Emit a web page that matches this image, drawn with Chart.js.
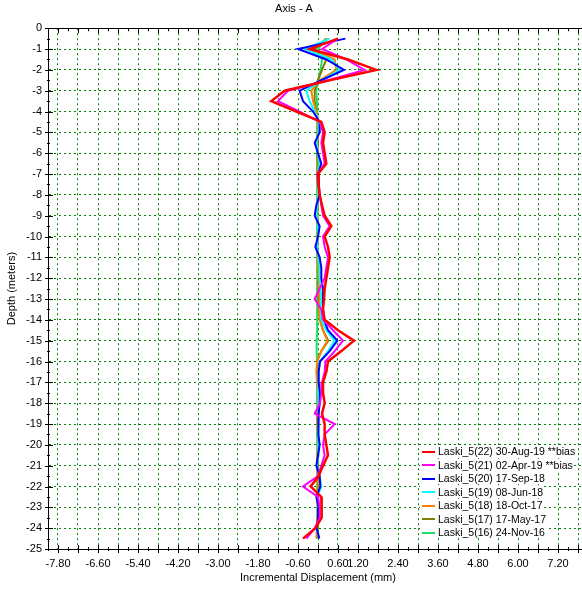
<!DOCTYPE html>
<html>
<head>
<meta charset="utf-8">
<script src="https://cdn.jsdelivr.net/npm/chart.js@4.4.1/dist/chart.umd.min.js"></script>
<style>
  html, body { margin: 0; padding: 0; background: #fff; overflow: hidden; }
  #wrap { position: relative; width: 636px; height: 589px; }
  #legend { position: absolute; left: 420px; top: 445px; font: 10.5px "Liberation Sans", Arial, sans-serif; color: #000; }
  #legend .row { height: 13.5px; line-height: 13.5px; white-space: nowrap; }
  #legend .row span { background: #fff; padding-right: 1px; }
  #legend .swatch { display: inline-block; width: 13px; height: 2px; vertical-align: middle; margin: 0 3px 1px 2px; }
</style>
</head>
<body>
<div id="wrap">
  <canvas id="chart" width="636" height="589"></canvas>
  <div id="legend"></div>
</div>
<script>
// depth of each reading (m), shown as negative values
const depths = [-0.5, -1, -1.5, -2, -2.5, -3, -3.5, -4, -4.5, -5,
  -5.5, -6, -6.5, -7, -7.5, -8, -8.5, -9, -9.5, -10,
  -10.5, -11, -11.5, -12, -12.5, -13, -13.5, -14, -14.5, -15,
  -15.5, -16, -16.5, -17, -17.5, -18, -18.5, -19, -19.5, -20,
  -20.5, -21, -21.5, -22, -22.5, -23, -23.5, -24, -24.5];

const seriesNames = [
  'Laski_5(22) 30-Aug-19 **bias',
  'Laski_5(21) 02-Apr-19 **bias',
  'Laski_5(20) 17-Sep-18',
  'Laski_5(19) 08-Jun-18',
  'Laski_5(18) 18-Oct-17',
  'Laski_5(17) 17-May-17',
  'Laski_5(16) 24-Nov-16'
];

// incremental displacement (mm) per depth
const aug19 = [0.6, -0.25, 0.9, 1.75, 0.35, -1.0, -1.4, -0.65, 0.1, 0.2,
  0.15, 0.2, 0.25, 0.0, 0.02, 0.05, 0.12, 0.2, 0.4, 0.2,
  0.3, 0.35, 0.3, 0.25, 0.2, 0.18, 0.15, 0.2, 0.6, 1.08,
  0.7, 0.3, 0.25, 0.15, 0.15, 0.2, 0.12, 0.2, 0.2, 0.25,
  0.3, 0.15, 0.02, -0.22, 0.1, 0.12, 0.1, -0.08, -0.45];
const apr19 = [0.6, 0.12, 0.85, 1.4, 0.3, -0.9, -1.2, -0.55, 0.05, 0.15,
  0.1, 0.15, 0.2, -0.02, 0.0, 0.05, 0.1, 0.15, 0.35, 0.15,
  0.2, 0.3, 0.25, 0.2, 0.05, -0.1, 0.1, 0.15, 0.45, 0.75,
  0.5, 0.22, 0.2, 0.12, 0.1, 0.06, -0.1, 0.5, 0.2, 0.15,
  0.2, 0.1, 0.0, -0.45, 0.0, 0.05, 0.05, -0.1, -0.35];
const sep18 = [0.82, -0.6, 0.25, 0.78, 0.1, -0.55, -0.45, -0.15, 0.05, 0.05,
  -0.1, 0.0, 0.1, 0.0, 0.02, 0.05, -0.05, -0.1, 0.05, 0.0,
  -0.08, 0.05, 0.1, 0.1, 0.15, 0.15, 0.15, 0.18, 0.3, 0.58,
  0.35, 0.06, 0.02, 0.02, 0.06, 0.05, 0.02, 0.0, 0.02, 0.05,
  0.0, -0.05, 0.05, 0.07, -0.05, 0.02, 0.0, -0.04, 0.04];
const jun18 = [0.35, -0.4, 0.4, 0.65, 0.1, -0.35, -0.25, -0.1, 0.03, 0.02,
  -0.05, 0.0, 0.05, 0.0, 0.0, 0.02, -0.02, -0.05, 0.02, 0.0,
  -0.03, 0.02, 0.05, 0.05, 0.08, 0.1, 0.08, 0.1, 0.25, 0.5,
  0.3, 0.05, 0.02, 0.0, 0.03, 0.03, 0.0, 0.0, 0.02, 0.03,
  0.0, -0.03, 0.05, 0.1, -0.03, 0.02, 0.0, -0.03, 0.03];
const oct17 = [0.3, -0.2, 0.5, 0.55, 0.05, -0.2, -0.15, -0.05, 0.0, 0.0,
  -0.03, 0.0, 0.02, -0.02, 0.0, 0.0, -0.02, -0.03, 0.0, -0.02,
  -0.03, 0.0, 0.02, 0.02, 0.03, 0.05, 0.03, 0.05, 0.15, 0.28,
  0.1, -0.03, -0.05, -0.03, 0.0, 0.0, -0.02, -0.03, 0.0, 0.0,
  -0.02, -0.03, 0.0, 0.02, -0.03, 0.0, -0.02, -0.03, -0.05];
const may17 = [0.25, -0.1, 0.25, 0.12, 0.0, -0.1, -0.1, -0.05, 0.0, 0.0,
  0.0, -0.02, 0.0, -0.02, 0.0, 0.0, 0.0, -0.02, 0.0, 0.0,
  -0.02, 0.0, 0.0, 0.02, 0.02, 0.0, 0.03, 0.06, 0.15, 0.31,
  0.1, -0.03, 0.0, 0.0, 0.0, 0.02, 0.0, 0.0, 0.0, 0.0,
  0.0, 0.0, 0.02, 0.0, 0.0, 0.0, 0.0, 0.0, -0.02];
const nov16 = [0.25, 0.0, 0.12, 0.08, 0.0, -0.05, -0.03, -0.02, -0.03, -0.03,
  -0.03, -0.03, -0.03, -0.03, -0.03, -0.03, -0.03, -0.03, -0.02, -0.02,
  -0.02, -0.02, -0.02, -0.02, -0.02, -0.02, -0.02, -0.02, -0.03, -0.04,
  -0.04, -0.03, -0.03, -0.03, -0.03, -0.03, -0.03, -0.02, -0.02, -0.02,
  -0.02, -0.02, -0.02, -0.02, -0.02, -0.02, -0.02, -0.02, -0.02];

const seriesValues = [aug19, apr19, sep18, jun18, oct17, may17, nov16];
const seriesColors = ['#ff0000', '#ff00ff', '#0000ff', '#00ffff', '#ff8000', '#808000', '#22dd66'];

const xTickLabels = ['-7.80', '-6.60', '-5.40', '-4.20', '-3.00', '-1.80', '-0.60',
  '0.60', '1.20', '2.40', '3.60', '4.80', '6.00', '7.20'];

const gridGreen = '#008000';
const onStep = (v, step) => Math.abs(v / step - Math.round(v / step)) < 1e-6;

// small tick marks along left, bottom and top edges, plus the top frame line
const axisTicks = {
  id: 'axisTicks',
  afterDraw(chart) {
    const { ctx, chartArea: a, scales: { x, y } } = chart;
    ctx.save();
    ctx.strokeStyle = '#000';
    ctx.lineWidth = 1;
    ctx.beginPath();
    ctx.moveTo(a.left, Math.round(a.top) + 0.5);
    ctx.lineTo(a.right, Math.round(a.top) + 0.5);
    for (let k = -27; k <= 27; k++) {
      const px = Math.round(x.getPixelForValue(k * 0.3)) + 0.5;
      const major = k % 2 === 0;
      ctx.moveTo(px, a.bottom - (major ? 4 : 2));
      ctx.lineTo(px, a.bottom + (major ? 4 : 2));
      ctx.moveTo(px, a.top);
      ctx.lineTo(px, a.top + (major ? 5 : 3));
    }
    for (let k = 0; k <= 50; k++) {
      const py = Math.round(y.getPixelForValue(-k * 0.5)) + 0.5;
      const major = k % 2 === 0;
      ctx.moveTo(a.left - (major ? 3 : 1), py);
      ctx.lineTo(a.left + (major ? 5 : 2), py);
    }
    ctx.stroke();
    ctx.restore();
  }
};

Chart.defaults.font.family = '"Liberation Sans", Arial, sans-serif';
Chart.defaults.font.size = 11;
Chart.defaults.color = '#000';

const datasets = seriesValues.map((vals, i) => ({
  label: seriesNames[i],
  data: vals.map((v, j) => ({ x: v, y: depths[j] })),
  borderColor: seriesColors[i],
  backgroundColor: seriesColors[i],
  borderWidth: i === 0 ? 2.5 : 2,
  showLine: true,
  pointRadius: 0,
  tension: 0
}));

new Chart(document.getElementById('chart'), {
  type: 'scatter',
  data: { datasets: datasets },
  options: {
    responsive: false,
    animation: false,
    events: [],
    layout: { padding: { left: 0, right: 48, top: 0, bottom: 0 } },
    plugins: {
      legend: { display: false },
      tooltip: { enabled: false },
      title: {
        display: true,
        text: 'Axis - A',
        font: { size: 11, weight: 'normal' },
        padding: { top: 2, bottom: 13 }
      }
    },
    scales: {
      x: {
        type: 'linear',
        min: -8.1,
        max: 8.1,
        afterFit: (s) => { s.height = 40; },
        ticks: {
          stepSize: 0.3,
          autoSkip: false,
          maxRotation: 0,
          minRotation: 0,
          padding: 8,
          callback: (v) => {
            const s = Number(v).toFixed(2);
            return xTickLabels.includes(s) ? s : '';
          }
        },
        grid: {
          drawTicks: false,
          lineWidth: 1,
          color: (c) => (c.tick && onStep(c.tick.value, 0.6) && Math.abs(c.tick.value) < 8 ? gridGreen : 'transparent')
        },
        border: { color: '#000', width: 1, dash: [2, 3] },
        title: {
          display: true,
          text: 'Incremental Displacement (mm)',
          padding: { top: 0, bottom: 4 }
        }
      },
      y: {
        type: 'linear',
        min: -25,
        max: 0,
        afterFit: (s) => { s.width = 48; },
        ticks: {
          stepSize: 1,
          autoSkip: false,
          padding: 6
        },
        grid: {
          drawTicks: false,
          lineWidth: 1,
          color: (c) => (c.tick && c.tick.value < 0 && c.tick.value > -25 ? gridGreen : 'transparent')
        },
        border: { color: '#000', width: 1, dash: [2, 3] },
        title: {
          display: true,
          text: 'Depth (meters)',
          padding: { top: 5, bottom: 0 }
        }
      }
    }
  },
  plugins: [axisTicks]
});

// legend inside the plot, bottom right
const legendEl = document.getElementById('legend');
seriesNames.forEach((name, i) => {
  const row = document.createElement('div');
  row.className = 'row';
  row.innerHTML = '<span><i class="swatch" style="background:' + seriesColors[i] + '"></i>' + name + '</span>';
  legendEl.appendChild(row);
});
</script>
</body>
</html>
